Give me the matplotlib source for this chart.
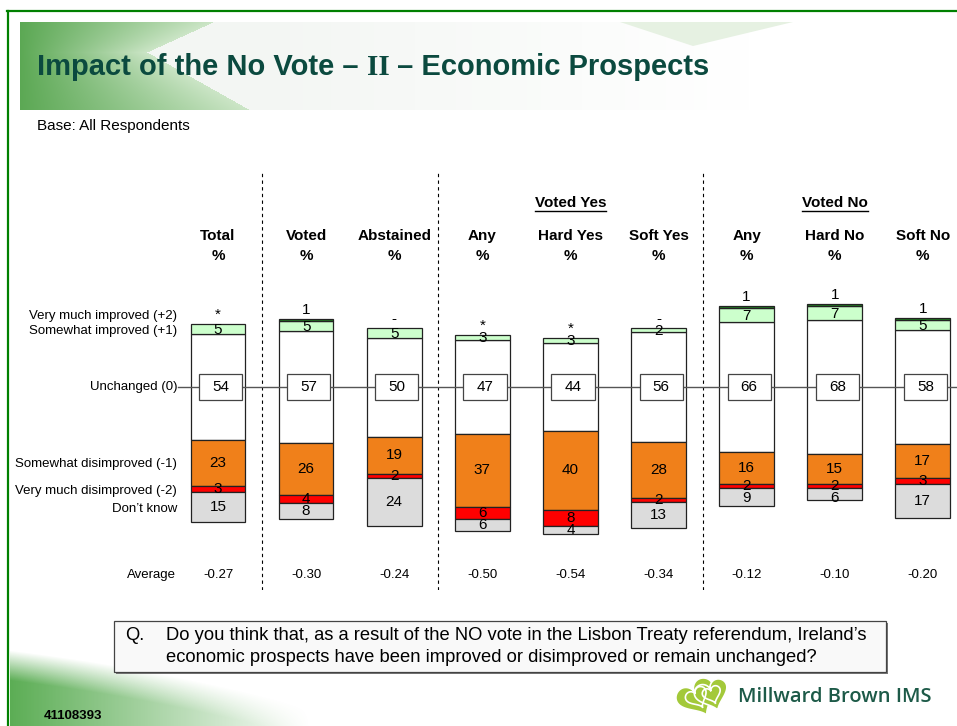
import numpy as np
import matplotlib
matplotlib.use("Agg")
import matplotlib.pyplot as plt
from matplotlib.patches import Rectangle, Polygon

# ------------------------------
# DATA
# ------------------------------
columns = ["Total", "Voted", "Abstained", "Any", "Hard Yes", "Soft Yes", "Any", "Hard No", "Soft No"]
very_much_improved = [0, 1, 0, 0, 0, 0, 1, 1, 1]
very_much_improved_text = ["*", "1", "-", "*", "*", "-", "1", "1", "1"]
somewhat_improved = [5, 5, 5, 3, 3, 2, 7, 7, 5]
unchanged = [54, 57, 50, 47, 44, 56, 66, 68, 58]
somewhat_disimproved = [23, 26, 19, 37, 40, 28, 16, 15, 17]
very_much_disimproved = [3, 4, 2, 6, 8, 2, 2, 2, 3]
dont_know = [15, 8, 24, 6, 4, 13, 9, 6, 17]
averages = ["-0.27", "-0.30", "-0.24", "-0.50", "-0.54", "-0.34", "-0.12", "-0.10", "-0.20"]

groups = ["Voted Yes", "Voted No"]
group_column = [4, 7]
dividers = [0.5, 2.5, 5.5]

row_labels = ["Very much improved (+2)", "Somewhat improved (+1)", "Unchanged (0)",
              "Somewhat disimproved (-1)", "Very much disimproved (-2)", "Don\u2019t know"]

question = ["Do you think that, as a result of the NO vote in the Lisbon Treaty referendum, Ireland\u2019s",
            "economic prospects have been improved or disimproved or remain unchanged?"]

# ------------------------------
# STYLE
# ------------------------------
SANS = "Liberation Sans"
plt.rcParams["font.family"] = [SANS, "DejaVu Sans"]

C_VMI = "#1f7a1f"
C_SI = "#ccffcc"
C_SD = "#f0801a"
C_VMD = "#ff0000"
C_DK = "#dcdcdc"
TITLE_COL = "#0b4a3f"
FRAME = "#008000"

W, H = 957, 726
fig = plt.figure(figsize=(W / 100, H / 100), dpi=100)

# background axes in pixel units (decoration + free text)
bg = fig.add_axes([0, 0, 1, 1])
bg.set_xlim(0, W)
bg.set_ylim(H, 0)
bg.axis("off")

# ---- title banner gradient ----
yy, xx = np.mgrid[22:110, 20:W].astype(float)
chev = np.where(yy < 52, 213 - (213 - 147) * (yy - 22) / 30, 147 + (250 - 147) * (yy - 52) / 58)
green = np.array([0.36, 0.66, 0.33])
light = np.array([0.80, 0.90, 0.78])
t = np.clip((xx - 20) / np.maximum(chev - 20, 1), 0, 1)[..., None]
left_rgb = green * (1 - t) + light * t
right_rgb = np.ones_like(left_rgb) * np.array([0.955, 0.965, 0.955])
img = np.where((xx < chev)[..., None], left_rgb, right_rgb)
alpha = np.where(xx < chev, 1.0, np.clip(1 - (xx - 250) / 500, 0, 1))
bg.imshow(np.dstack([img, alpha]), extent=(20, W, 110, 22), aspect="auto", zorder=0)
bg.add_patch(Polygon([[620, 22], [793, 22], [693, 46]], closed=True, color="#e6f1e2", lw=0, zorder=0.5))

# ---- bottom-left swoosh ----
yy2, xx2 = np.mgrid[630:H, 10:420].astype(float)
curve = 650 + (xx2 - 10) * 0.12 + ((xx2 - 10) / 410) ** 2 * 40
inside = yy2 > curve
fade = np.clip(1 - (xx2 - 10) / 300, 0, 1) * np.clip((yy2 - curve) / 30, 0, 1)
sw = np.dstack([np.full_like(xx2, 0.36), np.full_like(xx2, 0.68), np.full_like(xx2, 0.33), np.where(inside, fade, 0)])
bg.imshow(sw, extent=(10, 420, H, 630), aspect="auto", zorder=0)

# ---- frame ----
bg.plot([7, W], [11, 11], color=FRAME, lw=1.6, zorder=1)
bg.plot([8, 8], [11, H], color=FRAME, lw=1.6, zorder=1)

# ---- title (II in serif) ----
fig.canvas.draw()
renderer = fig.canvas.get_renderer()
title_parts = [("Impact of the No Vote \u2013 ", SANS), ("II", "Liberation Serif"), (" \u2013 Economic Prospects", SANS)]
tx = 37
for txt, fam in title_parts:
    tt = bg.text(tx, 75, txt, fontsize=21, fontweight="bold", color=TITLE_COL,
                 family=fam, va="baseline", ha="left", zorder=2)
    ext = tt.get_window_extent(renderer)
    tx += ext.width

bg.text(37, 126, "Base: All Respondents", fontsize=11, va="center", ha="left")

# ------------------------------
# CHART AXES (x = column index, y = % around Unchanged centre)
# ------------------------------
X0, DX, PX_PCT = 218, 88.1, 1.98
top_px, bot_px, mid_px, left_px = 170, 590, 387, 10
ax = fig.add_axes([left_px / W, (H - bot_px) / H, (W - left_px) / W, (bot_px - top_px) / H])
ax.set_xlim((left_px - X0) / DX, (W - X0) / DX)
ax.set_ylim(-(bot_px - mid_px) / PX_PCT, (mid_px - top_px) / PX_PCT)
ax.axis("off")
ax.patch.set_alpha(0)

x = np.arange(len(columns))
u = np.array(unchanged, float)
si = np.array(somewhat_improved, float)
vmi = np.array(very_much_improved, float)
sd = np.array(somewhat_disimproved, float)
vmd = np.array(very_much_disimproved, float)
dk = np.array(dont_know, float)

b_u = -u / 2
b_si = u / 2
b_vmi = u / 2 + si
b_sd = -u / 2 - sd
b_vmd = b_sd - vmd
b_dk = b_vmd - dk

bw = 0.62
edge = dict(edgecolor="#222222", linewidth=0.9, zorder=2)
ax.bar(x, u, bottom=b_u, width=bw, color="white", **edge)
ax.bar(x, si, bottom=b_si, width=bw, color=C_SI, **edge)
m = vmi > 0
ax.bar(x[m], vmi[m], bottom=b_vmi[m], width=bw, color=C_VMI, **edge)
ax.bar(x, sd, bottom=b_sd, width=bw, color=C_SD, **edge)
ax.bar(x, vmd, bottom=b_vmd, width=bw, color=C_VMD, **edge)
ax.bar(x, dk, bottom=b_dk, width=bw, color=C_DK, **edge)

# centre line and dividers
ax.plot([(178 - X0) / DX, (W - X0) / DX], [0, 0], color="#555555", lw=1.0, zorder=3)
ax.vlines(dividers, ax.get_ylim()[0], ax.get_ylim()[1], colors="black", lw=0.8,
          linestyles=(0, (3, 3)), zorder=1)

# unchanged boxes
box_w, box_h = 0.49, 13.2
for i in x:
    ax.add_patch(Rectangle((i + 0.03 - box_w / 2, -box_h / 2), box_w, box_h,
                           facecolor="white", edgecolor="#444444", lw=0.9, zorder=4))
    ax.text(i + 0.03, 0, f"{unchanged[i]:g}", ha="center", va="center", fontsize=11, zorder=5)

# segment labels
for i in x:
    top = b_vmi[i] + vmi[i]
    ax.text(i, top + 1.0, very_much_improved_text[i], ha="center", va="bottom", fontsize=11, zorder=5)
    ax.text(i, b_si[i] + si[i] / 2 - 0.5, f"{somewhat_improved[i]:g}", ha="center", va="center",
            fontsize=11, zorder=5)
    prev = None
    for val, b in ((sd[i], b_sd[i]), (vmd[i], b_vmd[i]), (dk[i], b_dk[i])):
        yl = b + val / 2
        if prev is not None and prev - yl < 6.0:
            yl = prev - 6.0
        ax.text(i, yl, f"{val:g}", ha="center", va="center", fontsize=11, zorder=5)
        prev = yl

# row labels
row_y = [36, 28.3, 0, -39, -52.5, -61.6]
for lab, yv in zip(row_labels, row_y):
    ax.text((177 - X0) / DX, yv, lab, ha="right", va="center", fontsize=9.5)

# column headers
for i, name in enumerate(columns):
    ax.text(i, 76.3, name, ha="center", va="center", fontsize=11, fontweight="bold")
    ax.text(i, 66.2, "%", ha="center", va="center", fontsize=11, fontweight="bold")

fig.canvas.draw()
for g, gi in zip(groups, group_column):
    gt = ax.text(gi, 93, g, ha="center", va="center", fontsize=11, fontweight="bold")
    ext = gt.get_window_extent(renderer)
    yline = H - ext.y0 + 1
    bg.plot([ext.x0, ext.x1], [yline, yline], color="black", lw=1.0)

# averages
ax.text((176 - X0) / DX, -95, "Average", ha="right", va="center", fontsize=9.5)
for i, a in enumerate(averages):
    ax.text(i, -95, a, ha="center", va="center", fontsize=9.5)

# ------------------------------
# QUESTION BOX + FOOTER
# ------------------------------
bg.add_patch(Rectangle((116, 623), 772, 51, facecolor="#777777", lw=0, zorder=2))
bg.add_patch(Rectangle((114, 621), 772, 51, facecolor="#f9f9f9", edgecolor="#444444", lw=0.9, zorder=3))
bg.text(125, 636, "Q.", fontsize=13.2, va="center", ha="left", zorder=4)
bg.text(166, 636, question[0], fontsize=13.2, va="center", ha="left", zorder=4)
bg.text(166, 657, question[1], fontsize=13.2, va="center", ha="left", zorder=4)

bg.text(44, 716, "41108393", fontsize=9.5, fontweight="bold", va="center", ha="left")

# logo
t_h = np.linspace(0, 2 * np.pi, 200)
hx = 16 * np.sin(t_h) ** 3
hy = 13 * np.cos(t_h) - 5 * np.cos(2 * t_h) - 2 * np.cos(3 * t_h) - np.cos(4 * t_h)
for cx, cy, s, rot in ((697, 697, 1.25, 0.5), (712, 694, 1.05, 0.35)):
    rx = hx * np.cos(rot) - hy * np.sin(rot)
    ry = hx * np.sin(rot) + hy * np.cos(rot)
    bg.add_patch(Polygon(np.c_[cx + rx * s, cy - ry * s], closed=True, facecolor="#a3c93a",
                         edgecolor="white", lw=1.2, zorder=3))
    bg.add_patch(Polygon(np.c_[cx + rx * s * 0.55, cy - ry * s * 0.55], closed=True, facecolor="none",
                         edgecolor="white", lw=1.2, zorder=4))
bg.text(738, 697, "Millward Brown IMS", fontsize=14.5, color="#1d5a48", family=["Open Sans", SANS],
        fontweight="semibold", va="center", ha="left")

fig.savefig("out.png", dpi=100)
